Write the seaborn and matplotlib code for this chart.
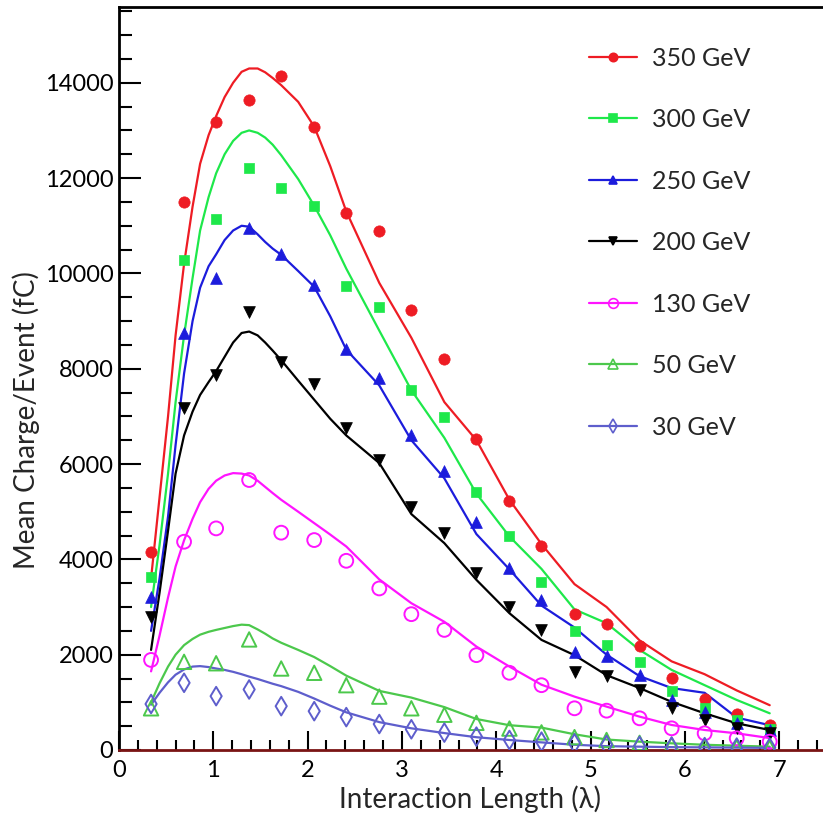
import matplotlib
matplotlib.use("Agg")
import matplotlib.pyplot as plt
from matplotlib.lines import Line2D
from matplotlib.ticker import MultipleLocator
import seaborn as sns

sns.set_style("ticks")
plt.rcParams["font.family"] = ["Lato", "DejaVu Sans"]

# Beam energies, drawing styles
labels = ["350 GeV", "300 GeV", "250 GeV", "200 GeV", "130 GeV", "50 GeV", "30 GeV"]
colors = ["#ee1c24", "#1ee84a", "#1c1cdc", "#000000", "#ff14ff", "#4cc84c", "#5e5ecc"]
markers = ["o", "s", "^", "v", "o", "^", "d"]
filled = [True, True, True, True, False, False, False]

# Measured mean charge per event (fC) at each layer depth (interaction lengths)
depth = [0.34, 0.69, 1.03, 1.38, 1.72, 2.07, 2.41, 2.76, 3.10, 3.45,
         3.79, 4.14, 4.48, 4.83, 5.17, 5.52, 5.86, 6.21, 6.55, 6.90]
data_350 = [4150, 11500, 13180, 13640, 14150, 13070, 11270, 10890, 9230, 8200,
            6530, 5230, 4280, 2850, 2640, 2180, 1510, 1070, 750, 520]
data_300 = [3640, 10280, 11140, 12220, 11800, 11420, 9740, 9290, 7550, 6990,
            5410, 4490, 3530, 2500, 2200, 1850, 1240, 880, 630, 440]
data_250 = [3220, 8760, 9900, 10950, 10410, 9760, 8410, 7800, 6610, 5850,
            4790, 3820, 3150, 2060, 1970, 1570, 1050, 800, 560, 420]
data_200 = [2790, 7170, 7870, 9180, 8150, 7690, 6750, 6085, 5105, 4550,
            3710, 3010, 2520, 1640, 1560, 1260, 875, 630, 455, 350]
data_130 = [1890, 4370, 4650, 5665, 4560, 4405, 3970, 3390, 2850, 2520,
            1990, 1620, 1360, 875, 825, 665, 455, 350, 245, 175]
data_50 = [875, 1850, 1820, 2320, 1710, 1620, 1360, 1120, 875, 740,
           570, 450, 370, 270, 210, 150, 110, 80, 60, 50]
data_30 = [965, 1410, 1130, 1270, 920, 815, 690, 545, 435, 365,
           280, 210, 175, 140, 105, 85, 70, 60, 50, 50]

# Simulated mean charge per event (fC)
sim_depth = [0.34, 0.43, 0.52, 0.60, 0.69, 0.78, 0.86, 0.95, 1.03, 1.12, 1.21, 1.30,
             1.38, 1.47, 1.55, 1.63, 1.72, 1.90, 2.07, 2.24, 2.41, 2.76, 3.10, 3.45,
             3.79, 4.14, 4.48, 4.83, 5.17, 5.52, 5.86, 6.21, 6.55, 6.90]
sim_350 = [3600, 5300, 7000, 8700, 10200, 11400, 12300, 12900, 13300, 13700, 14000, 14230,
           14300, 14300, 14220, 14100, 13950, 13600, 13080, 12250, 11300, 9800, 8650, 7300,
           6500, 5250, 4320, 3480, 3000, 2300, 1860, 1590, 1250, 940]
sim_300 = [3000, 4300, 5800, 7300, 8700, 9900, 10900, 11600, 12100, 12500, 12780, 12950,
           13000, 12950, 12850, 12700, 12480, 11980, 11420, 10800, 10100, 8800, 7550, 6550,
           5380, 4480, 3800, 2950, 2660, 2100, 1680, 1360, 1050, 770]
sim_250 = [2500, 3600, 4900, 6400, 7900, 9000, 9700, 10150, 10400, 10700, 10900, 11000,
           10980, 10820, 10660, 10520, 10390, 10050, 9720, 9100, 8400, 7650, 6500, 5700,
           4530, 3790, 3030, 2570, 2000, 1550, 1300, 1200, 680, 520]
sim_200 = [2100, 3300, 4600, 5800, 6600, 7100, 7450, 7720, 7950, 8250, 8550, 8750,
           8780, 8700, 8550, 8380, 8180, 7750, 7350, 6950, 6600, 6020, 4950, 4340,
           3570, 2870, 2310, 1990, 1570, 1300, 1010, 770, 560, 420]
sim_130 = [1650, 2400, 3200, 3850, 4400, 4850, 5200, 5480, 5650, 5760, 5810, 5800,
           5760, 5650, 5520, 5390, 5250, 5000, 4760, 4520, 4270, 3580, 3080, 2690,
           2170, 1750, 1370, 1120, 910, 700, 525, 420, 350, 250]
sim_50 = [1000, 1400, 1750, 2000, 2200, 2330, 2420, 2480, 2520, 2560, 2600, 2630,
          2620, 2530, 2440, 2340, 2250, 2100, 1950, 1760, 1560, 1240, 1100, 900,
          650, 520, 470, 330, 220, 175, 140, 110, 90, 70]
sim_30 = [950, 1200, 1420, 1580, 1690, 1750, 1760, 1740, 1710, 1680, 1640, 1590,
          1540, 1490, 1440, 1390, 1340, 1220, 1080, 930, 790, 585, 455, 355,
          268, 210, 160, 110, 80, 70, 60, 55, 50, 45]

measured = [data_350, data_300, data_250, data_200, data_130, data_50, data_30]
simulated = [sim_350, sim_300, sim_250, sim_200, sim_130, sim_50, sim_30]

fig = plt.figure(figsize=(8.23, 8.32), dpi=100)
ax = fig.add_axes([119 / 823, 82 / 832, 704 / 823, 743 / 832])

for sim, col in zip(simulated, colors):
    sns.lineplot(x=sim_depth, y=sim, color=col, linewidth=1.6, ax=ax,
                 estimator=None, sort=False)

for vals, col, mk, fl in zip(measured, colors, markers, filled):
    size = {"o": 66, "s": 56, "^": 72, "v": 72, "d": 60}[mk]
    if fl:
        sns.scatterplot(x=depth, y=vals, marker=mk, s=size, color=col,
                        edgecolor=col, linewidth=0.5, ax=ax, zorder=3)
    else:
        sns.scatterplot(x=depth, y=vals, marker=mk, s=size * 1.5, color=col,
                        facecolor="none", edgecolor=col, linewidth=1.4,
                        ax=ax, zorder=3)

ax.set_xlim(0, 7.465)
ax.set_ylim(0, 15590)
ax.xaxis.set_major_locator(MultipleLocator(1))
ax.xaxis.set_minor_locator(MultipleLocator(0.2))
ax.yaxis.set_major_locator(MultipleLocator(2000))
ax.yaxis.set_minor_locator(MultipleLocator(500))

ax.tick_params(axis="both", which="both", direction="in", width=1.5,
               colors="black", labelsize=17)
ax.tick_params(axis="y", which="major", length=16, pad=4)
ax.tick_params(axis="y", which="minor", length=9)
ax.tick_params(axis="x", which="major", length=14, pad=7)
ax.tick_params(axis="x", which="minor", length=7)

for side in ("left", "top"):
    ax.spines[side].set_linewidth(2)
    ax.spines[side].set_color("black")
ax.spines["right"].set_visible(False)
ax.spines["bottom"].set_linewidth(2)
ax.spines["bottom"].set_color("#7a1414")

ax.set_xlabel("Interaction Length (\u03bb)", fontsize=20)
ax.set_ylabel("Mean Charge/Event (fC)", fontsize=20)
ax.xaxis.set_label_coords(0.499, -0.048)
ax.yaxis.set_label_coords(-0.112, 0.444)

handles = []
for col, mk, fl in zip(colors, markers, filled):
    handles.append(Line2D([0], [0], color=col, linewidth=1.6, marker=mk,
                          markersize=6 if fl else 7,
                          markerfacecolor=col if fl else "none",
                          markeredgecolor=col, markeredgewidth=1.2))
ax.legend(handles, labels, loc="upper left", bbox_to_anchor=(0.636, 0.977),
          frameon=False, fontsize=18, handlelength=1.9, handletextpad=0.6,
          labelspacing=1.54)

fig.savefig("out.png", dpi=100)
